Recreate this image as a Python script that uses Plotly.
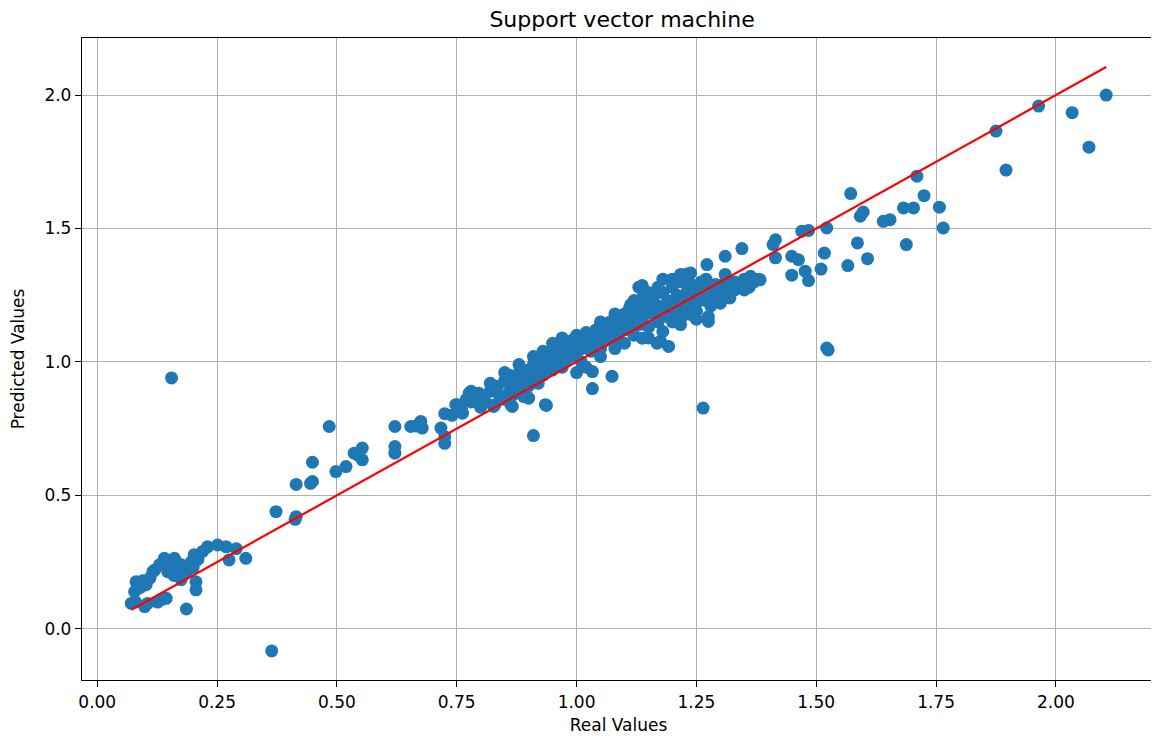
import plotly.graph_objects as go

# Real (x) and predicted (y) values
real_values = [
    # low cluster
    0.071, 0.080, 0.099, 0.105, 0.126, 0.144, 0.135, 0.078, 0.081, 0.090, 0.102, 0.095,
    0.116, 0.110, 0.140, 0.161, 0.175, 0.147, 0.155, 0.165, 0.175, 0.185, 0.196, 0.206,
    0.206, 0.202, 0.190, 0.210, 0.230, 0.251, 0.269, 0.290, 0.275, 0.310, 0.186, 0.364,
    0.155, 0.120, 0.130, 0.170, 0.160, 0.220, 0.200,
    # 0.35 - 0.92
    0.373, 0.415, 0.413, 0.415, 0.449, 0.445, 0.449, 0.484, 0.498, 0.519, 0.536, 0.553,
    0.553, 0.545, 0.621, 0.621, 0.621, 0.654, 0.675, 0.678, 0.665, 0.717, 0.725, 0.725,
    0.725, 0.748, 0.762, 0.776, 0.796, 0.800, 0.827, 0.835, 0.863, 0.876, 0.897, 0.910,
    # under the band
    0.935, 0.937, 0.866, 0.900, 1.033, 1.033, 1.074, 1.264, 1.522, 1.525,
    # dense band
    0.74, 0.75, 0.76, 0.77, 0.78, 0.79, 0.80, 0.80, 0.81, 0.82, 0.83, 0.83, 0.84, 0.85,
    0.85, 0.86, 0.86, 0.87, 0.87, 0.88, 0.88, 0.89, 0.89, 0.90, 0.90, 0.91, 0.91, 0.92,
    0.92, 0.93, 0.93, 0.94, 0.94, 0.95, 0.95, 0.96, 0.96, 0.97, 0.97, 0.98, 0.98, 0.99,
    0.99, 1.00, 1.00, 1.00, 1.01, 1.01, 1.02, 1.02, 1.03, 1.03, 1.04, 1.04, 1.05, 1.05,
    1.06, 1.06, 1.07, 1.07, 1.08, 1.08, 1.09, 1.09, 1.10, 1.10, 1.11, 1.11, 1.12, 1.12,
    1.13, 1.13, 1.14, 1.14, 1.15, 1.15, 1.16, 1.16, 1.17, 1.17, 1.18, 1.18, 1.19, 1.19,
    1.20, 1.20, 1.21, 1.21, 1.22, 1.22, 1.23, 1.23, 1.24, 1.24, 1.25, 1.25, 1.26, 1.26,
    1.27, 1.27, 1.28, 1.29, 1.29, 1.30, 1.31, 1.31, 1.32, 1.33, 1.33, 1.34, 1.35, 1.36,
    1.37, 1.38,
    # band spread
    0.78, 0.82, 0.85, 0.88, 0.91, 0.93, 0.95, 0.97, 1.00, 1.02, 1.05, 1.05, 1.08, 1.08,
    1.10, 1.12, 1.13, 1.15, 1.15, 1.17, 1.18, 1.20, 1.22, 1.23, 1.25, 1.25, 1.27, 1.28,
    1.30, 1.32, 1.35,
    # around the band
    1.137, 1.113, 1.140, 1.200, 1.217, 1.238, 1.175, 1.192, 1.168, 1.137, 1.275, 1.275,
    1.200, 1.217, 1.180, 1.238,
    # upper right
    1.345, 1.310, 1.272, 1.310, 1.363, 1.383, 1.415, 1.415, 1.410, 1.449, 1.449, 1.463,
    1.477, 1.484, 1.470, 1.484, 1.510, 1.517, 1.522, 1.566, 1.572, 1.586, 1.592, 1.598,
    1.607, 1.640, 1.654, 1.682, 1.688, 1.703, 1.710, 1.725, 1.757, 1.765, 1.875, 1.896,
    1.964, 2.034, 2.069, 2.105,
]

predicted_values = [
    # low cluster
    0.095, 0.100, 0.083, 0.095, 0.100, 0.114, 0.110, 0.139, 0.176, 0.155, 0.165, 0.180,
    0.214, 0.190, 0.264, 0.264, 0.240, 0.214, 0.230, 0.250, 0.184, 0.210, 0.250, 0.176,
    0.146, 0.277, 0.225, 0.260, 0.307, 0.314, 0.307, 0.300, 0.258, 0.264, 0.074, -0.083,
    0.940, 0.220, 0.240, 0.220, 0.200, 0.290, 0.230,
    # 0.35 - 0.92
    0.439, 0.420, 0.410, 0.541, 0.552, 0.545, 0.624, 0.758, 0.589, 0.608, 0.658, 0.677,
    0.633, 0.650, 0.758, 0.683, 0.658, 0.758, 0.777, 0.752, 0.760, 0.752, 0.720, 0.695,
    0.806, 0.840, 0.808, 0.883, 0.883, 0.833, 0.833, 0.908, 0.840, 0.900, 0.870, 0.724,
    # under the band
    0.840, 0.837, 0.833, 0.864, 0.900, 0.964, 0.946, 0.827, 1.052, 1.045,
    # dense band
    0.80, 0.84, 0.82, 0.86, 0.85, 0.88, 0.83, 0.87, 0.85, 0.89, 0.84, 0.91, 0.87, 0.86,
    0.93, 0.89, 0.95, 0.88, 0.92, 0.90, 0.96, 0.87, 0.93, 0.91, 0.97, 0.94, 0.99, 0.92,
    0.96, 1.00, 0.95, 0.98, 1.02, 0.97, 1.03, 1.00, 1.05, 0.98, 1.03, 1.06, 1.01, 1.04,
    1.08, 1.02, 1.06, 1.10, 1.05, 1.00, 1.08, 1.11, 1.04, 1.09, 1.07, 1.12, 1.10, 1.05,
    1.13, 1.08, 1.11, 1.15, 1.09, 1.13, 1.16, 1.11, 1.14, 1.18, 1.12, 1.20, 1.16, 1.10,
    1.19, 1.14, 1.17, 1.22, 1.13, 1.20, 1.18, 1.24, 1.15, 1.21, 1.19, 1.26, 1.23, 1.17,
    1.21, 1.28, 1.25, 1.19, 1.23, 1.30, 1.26, 1.21, 1.24, 1.29, 1.22, 1.27, 1.25, 1.30,
    1.23, 1.28, 1.26, 1.29, 1.24, 1.27, 1.30, 1.26, 1.28, 1.30, 1.27, 1.29, 1.31, 1.28,
    1.30, 1.31,
    # band spread
    0.89, 0.92, 0.96, 0.99, 1.02, 1.04, 1.07, 1.09, 0.96, 0.98, 1.15, 1.02, 1.18, 1.05,
    1.07, 1.23, 1.28, 1.26, 1.09, 1.28, 1.31, 1.15, 1.17, 1.33, 1.19, 1.16, 1.31, 1.21,
    1.22, 1.24, 1.27,
    # around the band
    1.286, 1.215, 1.253, 1.310, 1.328, 1.333, 1.077, 1.058, 1.070, 1.089, 1.170, 1.152,
    1.164, 1.140, 1.114, 1.178,
    # upper right
    1.425, 1.396, 1.365, 1.328, 1.321, 1.308, 1.458, 1.390, 1.440, 1.396, 1.325, 1.383,
    1.340, 1.305, 1.490, 1.493, 1.348, 1.408, 1.502, 1.361, 1.631, 1.446, 1.546, 1.562,
    1.387, 1.527, 1.533, 1.577, 1.440, 1.577, 1.696, 1.623, 1.580, 1.502, 1.865, 1.719,
    1.959, 1.934, 1.805, 2.000,
]

title_text = "Support vector machine"
x_label = "Real Values"
y_label = "Predicted Values"
x_ticks = [0.0, 0.25, 0.5, 0.75, 1.0, 1.25, 1.5, 1.75, 2.0]
y_ticks = [0.0, 0.5, 1.0, 1.5, 2.0]

line_x = [min(real_values), max(real_values)]
line_y = [min(real_values), max(real_values)]

FONT = "DejaVu Sans"

fig = go.Figure()
fig.add_trace(go.Scatter(
    x=real_values, y=predicted_values, mode="markers",
    marker=dict(color="#1f77b4", size=13, line=dict(width=0)),
    showlegend=False,
))
fig.add_trace(go.Scatter(
    x=line_x, y=line_y, mode="lines",
    line=dict(color="red", width=2.2),
    showlegend=False,
))

axis_common = dict(
    showgrid=True, gridcolor="#b0b0b0", gridwidth=1,
    showline=True, linecolor="black", linewidth=1.3, mirror=True,
    ticks="outside", ticklen=6, tickwidth=1.2, tickcolor="black",
    zeroline=False, automargin=False,
    tickfont=dict(family=FONT, size=17, color="black"),
)

fig.update_xaxes(
    range=[-0.0318, 2.2068], tickvals=x_ticks, tickformat=".2f",
    title=dict(text=x_label, font=dict(family=FONT, size=17, color="black"), standoff=8),
    **axis_common,
)
fig.update_yaxes(
    range=[-0.192, 2.214], tickvals=y_ticks, tickformat=".1f",
    title=dict(text=y_label, font=dict(family=FONT, size=17, color="black"), standoff=16),
    **axis_common,
)

# The page body has an 8px margin, so the figure is offset by 8px; compensate.
fig.update_layout(
    width=1151, height=734,
    margin=dict(l=74, r=4, t=30, b=62),
    paper_bgcolor="white", plot_bgcolor="white",
    font=dict(family=FONT, color="black"),
    title=dict(text=title_text, x=0.5335, xanchor="center",
               y=0.995, yanchor="top", yref="container",
               font=dict(family=FONT, size=22, color="black")),
)

fig.write_html("out.html")
